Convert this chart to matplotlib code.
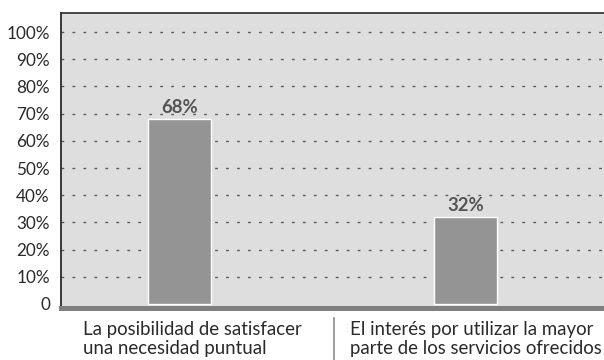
import matplotlib
matplotlib.use("Agg")
import matplotlib.pyplot as plt
from matplotlib.transforms import blended_transform_factory

plt.rcParams['font.family'] = ['Lato', 'DejaVu Sans']
plt.rcParams['lines.scale_dashes'] = False

categories = [
    "La posibilidad de satisfacer\nuna necesidad puntual",
    "El interés por utilizar la mayor\nparte de los servicios ofrecidos",
]
values = [68, 32]
value_labels = ["68%", "32%"]
yticks = [0, 10, 20, 30, 40, 50, 60, 70, 80, 90, 100]
ytick_labels = ["0", "10%", "20%", "30%", "40%", "50%", "60%", "70%", "80%", "90%", "100%"]

W, H = 604, 360
fig = plt.figure(figsize=(W / 100, H / 100), dpi=100)
left_px, right_px, top_px, bottom_px = 61, 604, 12.7, 307.5
ax = fig.add_axes([left_px / W, 1 - bottom_px / H,
                   (right_px - left_px) / W, (bottom_px - top_px) / H])

ax.set_facecolor('#dedede')
x = list(range(len(categories)))
ax.set_xlim(-0.416, 1.483)
ax.set_ylim(-1.29, 107.1)

# dashed horizontal guides
for t in yticks[1:]:
    ax.axhline(t, color='#5a5a5a', lw=1.0, linestyle=(0, (2.0, 5.9)), zorder=1)

ax.bar(x, values, width=0.22, color='#949494', edgecolor='white',
       linewidth=1.0, zorder=3)

for xi, v, lab in zip(x, values, value_labels):
    ax.annotate(lab, xy=(xi, v), xytext=(0, 2), textcoords='offset points',
                ha='center', va='bottom', fontsize=13.3, fontweight='bold',
                color='#555555', zorder=4)

ax.set_yticks(yticks)
ax.set_yticklabels(ytick_labels, fontsize=12.3, color='#2a2a2a')
ax.tick_params(axis='y', length=0, pad=8)
ax.set_xticks([])

ax.spines['right'].set_visible(False)
ax.spines['top'].set_color('#3a3a3a')
ax.spines['top'].set_linewidth(1.3)
ax.spines['left'].set_color('#2a2a2a')
ax.spines['left'].set_linewidth(1.3)
ax.spines['bottom'].set_color('#7f7f7f')
ax.spines['bottom'].set_linewidth(3.6)
ax.spines['bottom'].set_zorder(5)

trans = blended_transform_factory(ax.transData, ax.transAxes)
offsets_px = [-97, -116]
for xi, cat, off in zip(x, categories, offsets_px):
    ax.annotate(cat, xy=(xi, 0), xycoords=trans,
                xytext=(off * 0.72, -10), textcoords='offset points',
                ha='left', va='top', fontsize=13.4, color='#2a2a2a',
                linespacing=1.15, annotation_clip=False)

# separator between the two category labels
ax.plot([0.537, 0.537], [-0.0356, -0.18], transform=trans, color='#8a8a8a',
        lw=1.2, clip_on=False)

fig.savefig('out.png', dpi=100)
